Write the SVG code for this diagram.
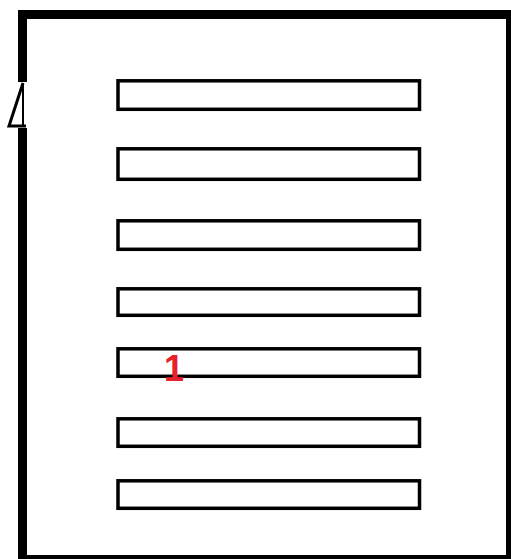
<svg xmlns="http://www.w3.org/2000/svg" width="511" height="559" viewBox="0 0 511 559">
<style>
.bar{fill:#fff;stroke:#000;stroke-width:3.5}
.frame{fill:none;stroke:#000;stroke-width:9;stroke-linejoin:miter}
.lbl{font-family:"Liberation Sans",Arial,sans-serif;font-weight:bold;font-size:36px;fill:#e8202a}
</style>
<rect x="0" y="0" width="511" height="559" fill="#fff"/>
<g id="frame">
<path class="frame" d="M22.5,82 V14.5 H510.5 V559.5 H22.5 V128"/>
</g>
<g id="door">
<path d="M23,83 L9,126 L26,126" fill="none" stroke="#000" stroke-width="3"/>
<path d="M23,83 L23,126" fill="none" stroke="#000" stroke-width="2"/>
</g>
<g id="bar1"><rect class="bar" x="118" y="80.8" width="301.5" height="28.5"/></g>
<g id="bar2"><rect class="bar" x="118" y="148.8" width="301.5" height="30.5"/></g>
<g id="bar3"><rect class="bar" x="118" y="220.8" width="301.5" height="28.5"/></g>
<g id="bar4"><rect class="bar" x="118" y="288.8" width="301.5" height="26.5"/></g>
<g id="bar5"><rect class="bar" x="118" y="348.8" width="301.5" height="27.5"/></g>
<g id="bar6"><rect class="bar" x="118" y="418.8" width="301.5" height="27.5"/></g>
<g id="bar7"><rect class="bar" x="118" y="480.8" width="301.5" height="27.5"/></g>
<g id="connectors"></g>
<text class="lbl" x="174" y="381" text-anchor="middle">1</text>
</svg>
